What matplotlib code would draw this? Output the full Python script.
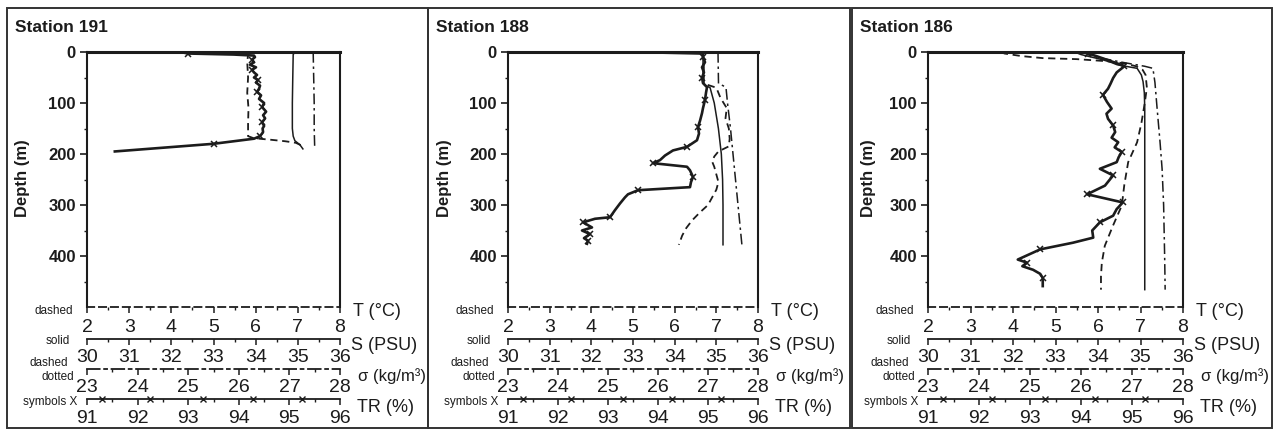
import matplotlib
matplotlib.use("Agg")
import matplotlib.pyplot as plt
from matplotlib import transforms, font_manager
from matplotlib.patches import Rectangle

W, H = 1276, 432
avail = {f.name for f in font_manager.fontManager.ttflist}
NARROW = "Liberation Sans Narrow" if "Liberation Sans Narrow" in avail else "Liberation Sans"
SANS = "Liberation Sans"
plt.rcParams["font.family"] = [SANS, "DejaVu Sans"]
INK = "#1c1c1c"

# ---------------- data ----------------
titles = ["Station 191", "Station 188", "Station 186"]

T_lim = (2, 8)
S_lim = (30, 36)
SIG_lim = (23, 28)
TR_lim = (91, 96)
T_ticks = [2, 3, 4, 5, 6, 7, 8]
S_ticks = [30, 31, 32, 33, 34, 35, 36]
SIG_ticks = [23, 24, 25, 26, 27, 28]
TR_ticks = [91, 92, 93, 94, 95, 96]
depth_ticks = [0, 100, 200, 300, 400]
depth_minor = [50, 150, 250, 350, 450]
depth_max = 500
tr_axis_marks = [91.3, 92.25, 93.3, 94.28, 95.25]

scale_labels = ["T (°C)", "S (PSU)", "σ (kg/m³)", "TR (%)"]

# Station 191
depth_T_191 = [0, 5, 20, 50, 80, 110, 140, 165, 169, 172, 175, 178, 183, 190]
temp_191 = [5.85, 5.82, 5.8, 5.82, 5.8, 5.83, 5.82, 5.82, 5.95, 6.35, 6.7, 6.95, 7.08, 7.1]
depth_S_191 = [0, 5, 50, 100, 150, 165, 174, 182, 190]
sal_191 = [34.93, 34.89, 34.88, 34.87, 34.87, 34.89, 34.93, 35.05, 35.12]
depth_SIG_191 = [0, 50, 100, 150, 188]
sig_191 = [27.47, 27.48, 27.49, 27.49, 27.5]
depth_TR_191 = [2, 3, 5, 7, 10, 15, 20, 25, 30, 35, 40, 45, 50, 55, 60, 66, 72, 78, 85, 92,
                100, 108, 117, 124, 130, 138, 145, 150, 157, 165, 170, 180, 195]
tr_191 = [92.95, 93.0, 93.9, 94.3, 94.32, 94.26, 94.3, 94.22, 94.34, 94.26, 94.3, 94.36, 94.3,
          94.38, 94.34, 94.42, 94.4, 94.36, 94.44, 94.4, 94.5, 94.46, 94.54, 94.48, 94.52, 94.46,
          94.5, 94.47, 94.48, 94.42, 94.3, 93.5, 91.55]
marks_191 = [1, 5, 9, 13, 17, 21, 25, 29, 31]

# Station 188
depth_T_188 = [0, 30, 62, 66, 70, 90, 110, 130, 150, 170, 185, 195, 205, 215, 225, 240, 255,
               270, 285, 300, 315, 330, 345, 360, 378]
temp_188 = [6.68, 6.7, 6.7, 6.85, 7.0, 7.1, 7.25, 7.22, 7.3, 7.32, 7.3, 7.05, 6.95, 6.9, 6.95,
            7.0, 7.05, 7.0, 6.9, 6.8, 6.6, 6.42, 6.28, 6.18, 6.1]
depth_S_188 = [0, 60, 66, 70, 100, 150, 200, 250, 300, 350, 378]
sal_188 = [34.68, 34.68, 34.75, 34.85, 34.95, 35.05, 35.12, 35.15, 35.16, 35.16, 35.16]
depth_SIG_188 = [0, 62, 66, 70, 100, 150, 200, 250, 300, 350, 380]
sig_188 = [27.2, 27.21, 27.3, 27.36, 27.39, 27.45, 27.5, 27.55, 27.6, 27.65, 27.68]
depth_TR_188 = [1, 3, 10, 20, 30, 40, 50, 61, 69, 80, 94, 110, 120, 135, 147, 160, 173, 186,
                193, 203, 212, 218, 225, 232, 245, 255, 265, 271, 279, 285, 297, 310, 324, 327,
                334, 344, 350, 357, 365, 370, 376]
tr_188 = [93.94, 94.9, 94.9, 94.94, 94.88, 94.92, 94.88, 94.9, 94.98, 94.96, 94.94, 94.9,
          94.88, 94.84, 94.8, 94.82, 94.78, 94.58, 94.3, 94.14, 94.04, 93.9, 94.58, 94.64,
          94.7, 94.66, 94.64, 93.6, 93.4, 93.34, 93.24, 93.14, 93.04, 92.74, 92.5, 92.68,
          92.48, 92.64, 92.52, 92.6, 92.58]
marks_188 = [2, 6, 10, 14, 17, 21, 24, 27, 32, 34, 37, 39]

# Station 186
depth_T_186 = [0, 3, 8, 12, 14, 18, 22, 28, 35, 45, 70, 100, 140, 177, 216, 260, 301, 341,
               380, 413, 440, 466]
temp_186 = [3.72, 3.8, 4.2, 4.7, 5.5, 6.2, 6.6, 6.9, 7.05, 7.12, 7.15, 7.1, 7.02, 6.92, 6.71,
            6.62, 6.56, 6.35, 6.16, 6.09, 6.07, 6.07]
depth_S_186 = [0, 5, 10, 15, 20, 25, 32, 45, 58, 80, 111, 200, 300, 400, 466]
sal_186 = [33.45, 33.6, 33.85, 34.1, 34.3, 34.45, 34.92, 35.02, 35.06, 35.09, 35.1, 35.1,
           35.1, 35.1, 35.1]
depth_SIG_186 = [0, 10, 20, 28, 32, 60, 108, 177, 229, 300, 400, 466]
sig_186 = [26.0, 26.3, 26.8, 27.25, 27.41, 27.45, 27.49, 27.55, 27.59, 27.62, 27.64, 27.65]
depth_TR_186 = [0, 3, 8, 15, 22, 28, 40, 51, 62, 72, 84, 98, 111, 121, 131, 144, 157, 168,
                177, 187, 196, 206, 216, 229, 242, 252, 262, 279, 295, 308, 321, 334, 350,
                364, 374, 387, 407, 413, 420, 427, 435, 443, 459]
tr_186 = [94.05, 94.14, 94.3, 94.5, 94.7, 94.85, 94.7, 94.63, 94.58, 94.53, 94.43, 94.51,
          94.6, 94.5, 94.53, 94.63, 94.67, 94.6, 94.73, 94.66, 94.8, 94.74, 94.7, 94.37,
          94.63, 94.55, 94.47, 94.12, 94.82, 94.7, 94.63, 94.37, 94.22, 94.24, 93.84, 93.2,
          92.76, 92.94, 92.85, 93.06, 93.2, 93.25, 93.25]
marks_186 = [1, 5, 10, 15, 20, 24, 27, 28, 31, 35, 37, 41]

stations = [
    dict(T=(depth_T_191, temp_191), S=(depth_S_191, sal_191), SIG=(depth_SIG_191, sig_191),
         TR=(depth_TR_191, tr_191), marks=marks_191),
    dict(T=(depth_T_188, temp_188), S=(depth_S_188, sal_188), SIG=(depth_SIG_188, sig_188),
         TR=(depth_TR_188, tr_188), marks=marks_188),
    dict(T=(depth_T_186, temp_186), S=(depth_S_186, sal_186), SIG=(depth_SIG_186, sig_186),
         TR=(depth_TR_186, tr_186), marks=marks_186),
]

# ---------------- layout (pixels) ----------------
ax_left = [87, 508, 928]
ax_right = [340, 758, 1183]
ax_top, ax_bottom = 52, 307
frames = [(7, 428), (428, 850), (852, 1272)]
frame_top, frame_bottom = 8, 428
PX = 0.72  # points per pixel

DASH = (0, (4, 2.6))
DASHDOT = (0, (7, 2.5, 1.6, 2.5))

fig = plt.figure(figsize=(W / 100, H / 100), dpi=100)
fig.patch.set_facecolor("white")


def fx(x):
    return x / W


def fy(y):
    return 1 - y / H


def style_scale(a, lim, ticks, offset_px, ls, pad_pt):
    a.set_xlim(*lim)
    a.xaxis.set_ticks_position("bottom")
    a.xaxis.set_label_position("bottom")
    a.spines["bottom"].set_position(("outward", offset_px * PX))
    a.spines["bottom"].set_linestyle(ls)
    a.spines["bottom"].set_linewidth(1.3)
    a.spines["bottom"].set_color(INK)
    a.set_xticks(ticks)
    a.set_xticks([t + 0.5 for t in ticks[:-1]], minor=True)
    a.tick_params(axis="x", which="major", direction="out", length=4.5, width=1.1,
                  color=INK, pad=pad_pt, labelsize=14, labelcolor=INK)
    a.tick_params(axis="x", which="minor", direction="out", length=2.2, width=1.0, color=INK)
    for lab in a.get_xticklabels():
        lab.set_family([NARROW, "DejaVu Sans"])


for i, st in enumerate(stations):
    L, R = ax_left[i], ax_right[i]
    ax = fig.add_axes([fx(L), fy(ax_bottom), fx(R - L), (ax_bottom - ax_top) / H])
    ax.patch.set_visible(False)
    ax.set_ylim(depth_max, 0)
    ax.set_yticks(depth_ticks)
    ax.set_yticks(depth_minor, minor=True)
    ax.tick_params(axis="y", which="major", direction="out", length=5, width=1.2, color=INK,
                   pad=3, labelsize=12, labelcolor=INK)
    ax.tick_params(axis="y", which="minor", direction="out", length=2.5, width=1.0, color=INK)
    for lab in ax.get_yticklabels():
        lab.set_fontweight("bold")
    ax.spines["top"].set_linewidth(2.2)
    ax.spines["left"].set_linewidth(1.5)
    ax.spines["right"].set_linewidth(1.5)
    for s in ["top", "left", "right"]:
        ax.spines[s].set_color(INK)
    style_scale(ax, T_lim, T_ticks, 0, DASH, 4.5)
    ax.tick_params(top=False, right=False)

    axes_scales = []
    for lim, ticks, off, ls, pad in [(S_lim, S_ticks, 32, "solid", 2.5),
                                     (SIG_lim, SIG_ticks, 62, DASHDOT, 3),
                                     (TR_lim, TR_ticks, 92, "solid", 3.5)]:
        a = ax.twiny()
        a.patch.set_visible(False)
        for s in ["top", "left", "right"]:
            a.spines[s].set_visible(False)
        style_scale(a, lim, ticks, off, ls, pad)
        axes_scales.append(a)
    ax_s, ax_sig, ax_tr = axes_scales

    # markers drawn on the TR axis line (legend-style symbols)
    trans = transforms.offset_copy(ax_tr.get_xaxis_transform(), fig=fig, y=-92 * PX,
                                   units="points")
    ax_tr.plot(tr_axis_marks, [0] * len(tr_axis_marks), ls="none", marker="x", ms=4.5,
               mew=1.0, color=INK, transform=trans, clip_on=False)

    # data
    ax.plot(st["T"][1], st["T"][0], color=INK, lw=1.3, ls=DASH)
    ax_s.plot(st["S"][1], st["S"][0], color=INK, lw=1.1, ls="solid")
    ax_sig.plot(st["SIG"][1], st["SIG"][0], color=INK, lw=1.1, ls=DASHDOT)
    ax_tr.plot(st["TR"][1], st["TR"][0], color=INK, lw=1.9, marker="x", ms=5, mew=1.1,
               markevery=st["marks"])

    # texts
    fl, fr = frames[i]
    fig.text(fx(fl + 8), fy(28), titles[i], fontsize=12.5, fontweight="bold", color=INK,
             ha="left", va="center")
    fig.text(fx(fl + 16), fy(178), "Depth (m)", fontsize=12, fontweight="bold", color=INK,
             rotation=90, ha="center", va="center")
    small = dict(fontsize=8.5, color=INK, ha="right", va="center")
    fig.text(fx(L - 14), fy(311), "dashed", **small)
    fig.text(fx(L - 17), fy(341), "solid", **small)
    fig.text(fx(L - 19), fy(363), "dashed", **small)
    fig.text(fx(L - 13), fy(377), "dotted", **small)
    fig.text(fx(L - 10), fy(402), "symbols X", **small)
    big = dict(fontsize=13, color=INK, ha="left", va="center")
    fig.text(fx(R + 13), fy(312), scale_labels[0], **big)
    fig.text(fx(R + 11), fy(346), scale_labels[1], **big)
    fig.text(fx(R + 18), fy(376), scale_labels[2], fontsize=12, color=INK, ha="left",
             va="center")
    fig.text(fx(R + 17), fy(407), scale_labels[3], **big)

    fig.add_artist(Rectangle((fx(fl), fy(frame_bottom)), fx(fr - fl),
                             (frame_bottom - frame_top) / H, transform=fig.transFigure,
                             fill=False, lw=1.4, ec="#333333"))

fig.savefig("out.png", dpi=100, facecolor="white")
